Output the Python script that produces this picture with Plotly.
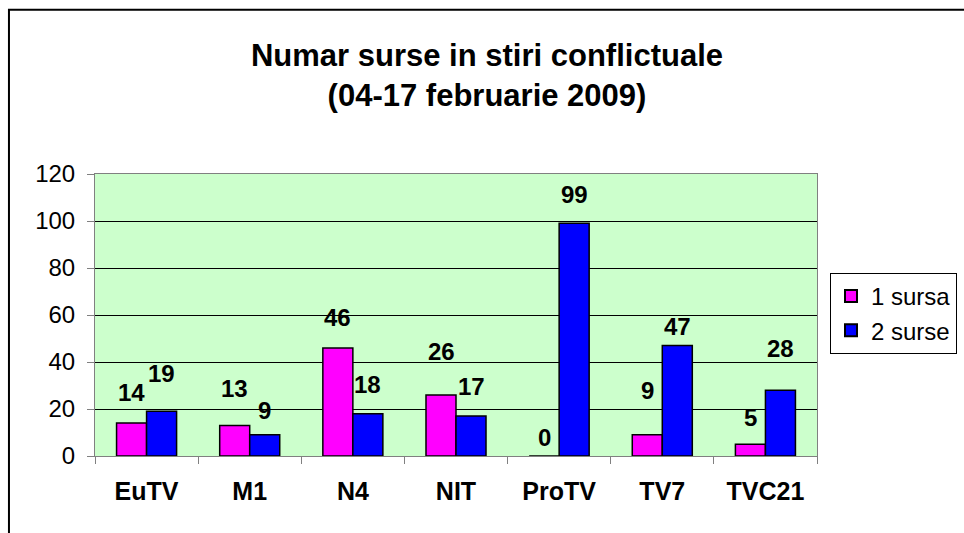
import plotly.graph_objects as go

categories = ["EuTV", "M1", "N4", "NIT", "ProTV", "TV7", "TVC21"]
sursa1 = [14, 13, 46, 26, 0, 9, 5]
surse2 = [19, 9, 18, 17, 99, 47, 28]
series_names = ["1 sursa", "2 surse"]
y_ticks = [0, 20, 40, 60, 80, 100, 120]

# label offsets (style): pixel gap between bar top and label baseline
gap1 = [21, 27, 21, 34, 9, 35, 17]
gap2 = [28, 15, 20, 20, 19, 10, 32]

FONT = "Liberation Sans, Arial, sans-serif"
W, H = 964, 533
ML, MR, MT, MB = 95, 147.3, 173.5, 77
PW = W - ML - MR
PH = H - MT - MB

fig = go.Figure()
fig.add_trace(go.Bar(x=categories, y=sursa1, name=series_names[0],
                     marker=dict(color="#FF00FF", line=dict(color="#000000", width=1.5))))
fig.add_trace(go.Bar(x=categories, y=surse2, name=series_names[1],
                     marker=dict(color="#0000FF", line=dict(color="#000000", width=1.5))))

ann = []
BASE_D = 6
for i, c in enumerate(categories):
    ann.append(dict(x=c, y=sursa1[i], xref="x", yref="y", text=f"<b>{sursa1[i]}</b>",
                    showarrow=False, xanchor="center", yanchor="bottom",
                    xshift=-15, yshift=gap1[i] - BASE_D,
                    font=dict(family=FONT, size=24, color="#000000")))
    ann.append(dict(x=c, y=surse2[i], xref="x", yref="y", text=f"<b>{surse2[i]}</b>",
                    showarrow=False, xanchor="center", yanchor="bottom",
                    xshift=15, yshift=gap2[i] - BASE_D,
                    font=dict(family=FONT, size=24, color="#000000")))

fig.update_layout(
    width=W, height=H,
    margin=dict(l=ML, r=MR, t=MT, b=MB, pad=0),
    paper_bgcolor="#FFFFFF",
    plot_bgcolor="#CCFFCC",
    font=dict(family=FONT, size=24, color="#000000"),
    title=dict(text="<b>Numar surse in stiri conflictuale<br>(04-17 februarie 2009)</b>",
               x=487 / W, xanchor="center", xref="container",
               y=1 - 66 / H, yanchor="top",
               font=dict(family=FONT, size=31, color="#000000")),
    barmode="group",
    bargap=0.418,
    bargroupgap=0,
    showlegend=True,
    legend=dict(x=830 / W, y=1 - 273 / H, xref="container", yref="container",
                xanchor="left", yanchor="top",
                bgcolor="#FFFFFF", bordercolor="#000000", borderwidth=1,
                font=dict(family=FONT, size=24, color="#000000"),
                itemsizing="constant"),
    annotations=ann,
    shapes=[dict(type="rect", xref="paper", yref="paper",
                 x0=(9 - ML) / PW, x1=(980 - ML) / PW,
                 y0=(456 - 560) / PH, y1=(456 - 9) / PH,
                 line=dict(color="#000000", width=2), fillcolor="rgba(0,0,0,0)",
                 layer="above")],
)

fig.update_xaxes(
    showline=True, linecolor="#808080", linewidth=1, mirror=True,
    ticks="outside", tickson="boundaries", ticklen=7, tickcolor="#808080",
    showgrid=False,
    tickfont=dict(family=FONT, size=25, color="#000000"),
    tickprefix="<b>", ticksuffix="</b>",
    ticklabelstandoff=13,
)
fig.update_yaxes(
    range=[0, 120], tickvals=y_ticks,
    showline=True, linecolor="#808080", linewidth=1, mirror=True,
    ticks="outside", ticklen=7, tickcolor="#808080",
    showgrid=True, gridcolor="#000000", gridwidth=1, zeroline=False,
    tickfont=dict(family=FONT, size=24, color="#000000"),
    ticklabelstandoff=7,
)

fig.write_html("out.html", config={"displayModeBar": False},
               post_script="document.body.style.margin='0';")
